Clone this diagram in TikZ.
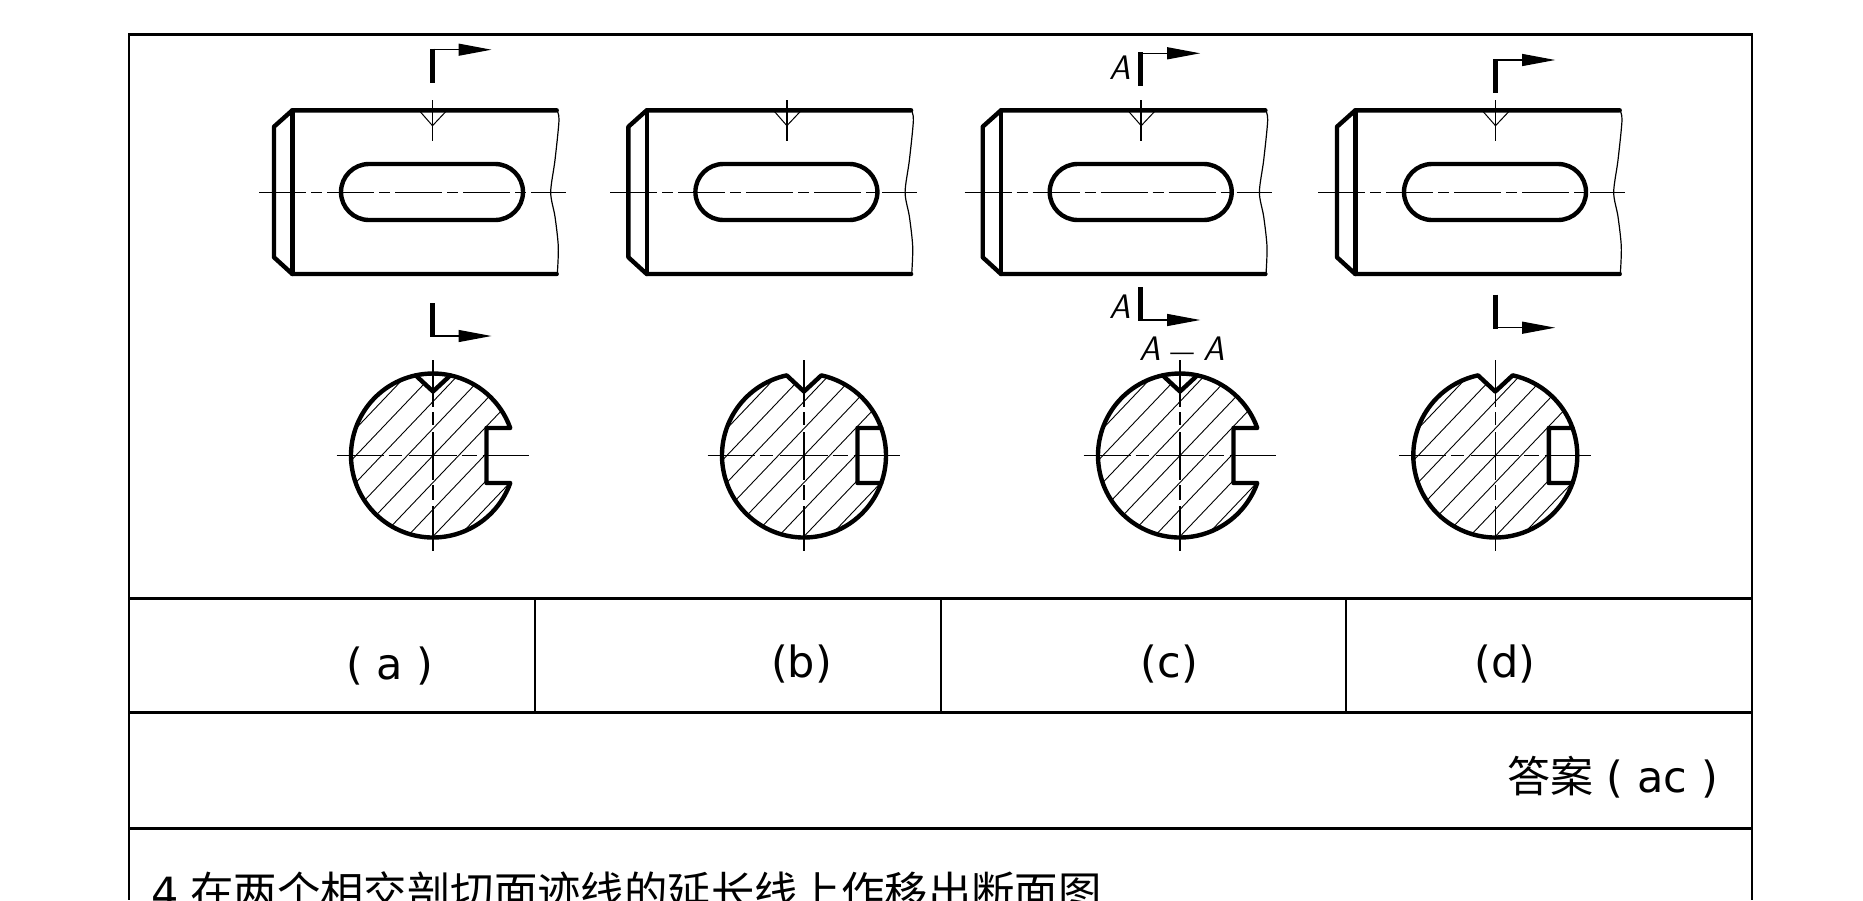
\documentclass[tikz,border=0pt]{standalone}
\usepackage{fontspec}
\setmainfont{DejaVu Sans}
\newfontfamily\cjk{Noto Sans CJK SC}
\usetikzlibrary{arrows.meta}
\tikzset{
  thickline/.style = {line width = 4.4pt, line cap = round, line join = round},
  thinline/.style = {line width = 1.2pt},
  hatchline/.style = {line width = .9pt},
  sectionbar/.style = {line width = 5pt},
  tableline/.style = {line width = 3pt},
  tablerule/.style = {line width = 2.2pt},
  shaftaxis/.style = {line width = 1.2pt, dash pattern = on 47pt off 5pt on 11pt off 5pt},
  crossaxis/.style = {line width = 1.6pt, dash pattern = on 47pt off 5pt on 13pt off 7pt on 48pt off 5pt on 15pt off 6pt on 47pt off 5pt},
  celltext/.style = {font = \fontsize{43}{50}\selectfont, inner sep = 0pt, anchor = base},
  sectionlabel/.style = {font = \fontsize{34}{34}\sffamily\slshape, inner sep = 0pt}
}
\def\keyprofile{(-19.6:82) arc[start angle = -19.6, end angle = -77.8, radius = 82]
  -- (0, -64) -- (-102.2:82) arc[start angle = -102.2, end angle = -340.4, radius = 82]
  -- (53.5, 27.5) -- (53.5, -27.5) -- cycle}
\begin{document}
\begin{tikzpicture}[x = 1pt, y = -1pt]
  \useasboundingbox (0, 0) rectangle (1863, 900);
  \clip (0, 0) rectangle (1863, 900);
  % table
  \draw[tableline] (128, 34.7)--(1753, 34.7);
  \foreach \rowy in {598.7, 712.7, 828}
    \draw[tableline] (128, \rowy)--(1753, \rowy);
  \foreach \colx in {129.3, 1751.8}
    \draw[tablerule] (\colx, 34)--(\colx, 900);
  \foreach \colx in {535, 941, 1346}
    \draw[tablerule] (\colx, 598.7)--(\colx, 712.7);
  \node[celltext] (labela) at (390, 679) {( a )};
  \node[celltext] (labelb) at (801.5, 677) {(b)};
  \node[celltext] (labelc) at (1169.5, 677) {(c)};
  \node[celltext] (labeld) at (1505, 677) {(d)};
  \node[celltext, anchor = base east] (answer) at (1718, 792) {{\cjk 答案} ( ac )};
  \node[celltext, anchor = base west] (question) at (151, 908)
    {4 \hspace{-2pt}{\cjk\fontsize{43.4}{50}\selectfont 在两个相交剖切面迹线的延长线上作移出断面图}};
  % shafts
  \foreach \shiftx/\axisx in {0/0, 354.4/-3, 708.7/-3, 1063/-4} {
    \begin{scope}[shift = {(\shiftx, 0)}]
      \draw[thickline] (556.7, 110.3)--(292.3, 110.3)--(274, 126.7)--(274, 257.3)--(292.3, 274)--(556.7, 274);
      \draw[thickline] (292.3, 110.3)--(292.3, 274);
      \draw[thickline, rounded corners = 28pt] (341, 164) rectangle (523, 220);
      \draw[shaftaxis] (259 + \axisx, 192.3)--(566 + \axisx, 192.3);
      \draw[thinline] plot[smooth] coordinates {(556.7, 110.3) (559, 120) (555, 160) (550.7, 192.3) (555, 216.7) (558.3, 246.7) (557.3, 274)};
      % small mark on the top line
      \draw[line width = 1.8pt] (432.5, 100)--(432.5, 141);
      \draw[line width = 1pt] (419, 110.3)--(432.5, 125.7)--(447, 110.3);
    \end{scope}
  }
  % section marks
  \foreach \markx/\topy/\boty in {432/49.7/336, 1140.7/53.3/320, 1495.7/60/327.7} {
    \draw[sectionbar] (\markx, \topy - 1)--(\markx, \topy + 33);
    \draw[sectionbar] (\markx, \boty - 33)--(\markx, \boty + 1);
    \draw[thinline, -{Triangle[length = 33pt, width = 12pt]}] (\markx, \topy)--(\markx + 59.5, \topy);
    \draw[thinline, -{Triangle[length = 33pt, width = 12pt]}] (\markx, \boty)--(\markx + 59.5, \boty);
  }
  \node[sectionlabel] (marktop) at (1120, 68) {A};
  \node[sectionlabel] (markbot) at (1120, 307) {A};
  \node[sectionlabel] (sectionname) at (1182, 349)
    {A\hspace{10pt}{\upshape\fontsize{25}{25}\selectfont —}\hspace{10pt}A};
  % cross sections
  \foreach \cx in {433, 804, 1180, 1495.3} {
    \begin{scope}[shift = {(\cx, 455.5)}]
      \begin{scope}
        \clip \keyprofile;
        \foreach \k in {-5, ..., 5}
          \draw[hatchline] ({\k*25.7 - 90}, 94.5)--({\k*25.7 + 90}, -94.5);
      \end{scope}
      \draw[thickline] \keyprofile;
      \draw[crossaxis] (-96.5, 0)--(96, 0);
      \draw[crossaxis] (0, -95.5)--(0, 95.5);
    \end{scope}
  }
  % the first and third close the top with the arc
  \foreach \cx in {433, 1180} {
    \begin{scope}[shift = {(\cx, 455.5)}]
      \draw[thickline] (-77.8:82) arc[start angle = -77.8, end angle = -102.2, radius = 82];
    \end{scope}
  }
  % the second and fourth keep the arc on the right
  \foreach \cx in {804, 1495.3} {
    \begin{scope}[shift = {(\cx, 455.5)}]
      \draw[thickline] (-19.6:82) arc[start angle = -19.6, end angle = 19.6, radius = 82];
    \end{scope}
  }
\end{tikzpicture}
\end{document}
